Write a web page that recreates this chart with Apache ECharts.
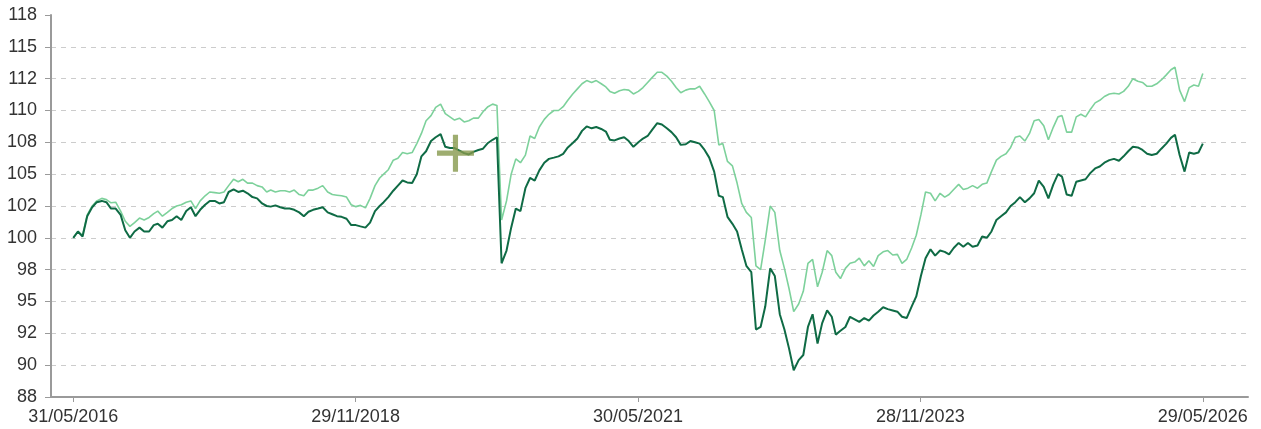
<!doctype html>
<html lang="en">
<head>
    <meta charset="UTF-8">
    <title>Performance chart</title>
    <style>
        html, body { margin: 0; padding: 0; background: #fff; }
        #main { width: 1261px; height: 429px; }
    </style>
</head>
<body>
<div id="main"></div>
<script src="https://cdn.jsdelivr.net/npm/echarts@6/dist/echarts.min.js"></script>
<script>
    var DAY = 86400000;

    // x-axis tick dates (shown as dd/mm/yyyy)
    var tickDates = ['2016-05-31', '2018-11-29', '2021-05-30', '2023-11-28', '2026-05-29'];

    // sampling dates: 31/05/2016, then the 15th and the last day of every month
    var dates = ['2016-05-31'];
    for (var m = 1; m <= 120; m++) {
        var yr = 2016 + Math.floor((4 + m) / 12), mo = (4 + m) % 12;
        var last = new Date(Date.UTC(yr, mo + 1, 0)).getUTCDate();
        dates.push(Date.UTC(yr, mo, 15), Date.UTC(yr, mo, m === 120 ? 29 : last));
    }

    // dark green line
    var seriesDark = [
        100.0, 100.5, 100.1, 101.7, 102.4, 102.8, 102.9, 102.8, 102.3, 102.3,
        101.8, 100.6, 100.0, 100.5, 100.8, 100.5, 100.5, 101.0, 101.1, 100.8,
        101.3, 101.4, 101.7, 101.4, 102.1, 102.4, 101.7, 102.2, 102.6, 102.9,
        102.9, 102.7, 102.8, 103.6, 103.8, 103.6, 103.7, 103.5, 103.2, 103.1,
        102.7, 102.5, 102.45, 102.55, 102.4, 102.3, 102.3, 102.2, 102.0, 101.7,
        102.05, 102.2, 102.3, 102.4, 102.0, 101.85, 101.7, 101.65, 101.5, 101.0,
        101.0, 100.9, 100.8, 101.2, 102.1, 102.5, 102.8, 103.2, 103.7, 104.1,
        104.5, 104.35, 104.3, 105.0, 106.4, 106.8, 107.6, 107.9, 108.15, 107.15,
        107.05, 107.05, 106.85, 106.65, 106.55, 106.75, 106.9, 107.0, 107.45, 107.7,
        107.9, 98.0, 99.0, 100.8, 102.3, 102.1, 103.9, 104.7, 104.5, 105.3,
        105.9, 106.2, 106.3, 106.4, 106.6, 107.1, 107.45, 107.8, 108.4, 108.75,
        108.6, 108.7, 108.55, 108.35, 107.7, 107.65, 107.8, 107.9, 107.6, 107.15,
        107.5, 107.8, 108.0, 108.5, 109.0, 108.9, 108.6, 108.3, 107.9, 107.3,
        107.35, 107.6, 107.5, 107.4, 106.9, 106.3, 105.2, 103.3, 103.2, 101.65,
        101.1, 100.5, 99.1, 97.8, 97.3, 92.8, 93.0, 94.6, 97.6, 97.0,
        94.0, 92.8, 91.3, 89.6, 90.4, 90.8, 93.0, 94.0, 91.7, 93.3,
        94.3, 93.8, 92.4, 92.7, 93.0, 93.8, 93.6, 93.4, 93.7, 93.5,
        93.9, 94.2, 94.55, 94.4, 94.3, 94.2, 93.8, 93.7, 94.6, 95.4,
        97.0, 98.4, 99.1, 98.6, 99.0, 98.9, 98.7, 99.2, 99.6, 99.3,
        99.6, 99.3, 99.4, 100.1, 100.0, 100.5, 101.4, 101.7, 102.0, 102.5,
        102.8, 103.2, 102.8, 103.1, 103.5, 104.5, 104.0, 103.1, 104.2, 105.0,
        104.8, 103.4, 103.3, 104.4, 104.5, 104.6, 105.1, 105.45, 105.6, 105.9,
        106.1, 106.2, 106.05, 106.4, 106.8, 107.15, 107.1, 106.9, 106.6, 106.5,
        106.6, 107.0, 107.4, 107.85, 108.1, 106.5, 105.2, 106.7, 106.6, 106.7,
        107.4
    ];

    // light green line
    var seriesLight = [
        100.0, 100.5, 100.2, 101.8, 102.5, 102.9, 103.1, 103.0, 102.75, 102.8,
        102.1, 101.3, 100.9, 101.2, 101.55, 101.4, 101.6, 101.9, 102.1, 101.7,
        102.0, 102.3, 102.5, 102.6, 102.8, 102.9, 102.3, 102.9, 103.3, 103.6,
        103.55, 103.5, 103.6, 104.1, 104.6, 104.4, 104.6, 104.3, 104.3, 104.1,
        104.0, 103.6, 103.75, 103.6, 103.7, 103.7, 103.6, 103.75, 103.4, 103.3,
        103.75, 103.75, 103.9, 104.1, 103.6, 103.4, 103.35, 103.3, 103.2, 102.6,
        102.45, 102.55, 102.35, 103.1, 104.1, 104.7, 105.0, 105.35, 106.1, 106.25,
        106.7, 106.6, 106.7, 107.4, 108.2, 109.2, 109.6, 110.25, 110.5, 109.75,
        109.5, 109.25, 109.4, 109.1, 109.2, 109.4, 109.4, 109.9, 110.3, 110.5,
        110.4, 101.4, 102.9, 105.0, 106.2, 105.9, 106.5, 108.0, 107.8, 108.7,
        109.3, 109.7, 110.0, 110.0, 110.3, 110.8, 111.3, 111.7, 112.1, 112.35,
        112.2, 112.35, 112.1, 111.85, 111.5, 111.35, 111.55, 111.65, 111.6, 111.3,
        111.5, 111.8, 112.2, 112.6, 113.0, 113.0, 112.7, 112.3, 111.8, 111.4,
        111.6, 111.7, 111.7, 111.9, 111.3, 110.7, 110.0, 107.3, 107.4, 106.0,
        105.65, 104.3, 102.7, 102.0, 101.6, 97.8, 97.5, 99.8, 102.5, 102.0,
        99.0, 97.6, 96.0, 94.2, 94.8, 95.8, 98.0, 98.3, 96.15, 97.3,
        99.0, 98.6, 97.3, 96.8, 97.6, 98.0, 98.1, 98.4, 97.8, 98.2,
        97.75, 98.6, 98.9, 99.0, 98.65, 98.7, 98.0, 98.3, 99.2, 100.2,
        101.8, 103.6, 103.5, 102.9, 103.5, 103.2, 103.4, 103.8, 104.2, 103.8,
        103.9, 104.1, 103.9, 104.2, 104.3, 105.2, 106.1, 106.4, 106.6, 107.1,
        107.9, 108.0, 107.6, 108.2, 109.2, 109.3, 108.8, 107.7, 108.7, 109.5,
        109.6, 108.3, 108.3, 109.5, 109.7, 109.5, 110.1, 110.6, 110.8, 111.1,
        111.3, 111.35, 111.3, 111.5, 111.9, 112.5, 112.3, 112.2, 111.9, 111.9,
        112.1, 112.4, 112.8, 113.2, 113.4, 111.6, 110.7, 111.8, 112.0, 111.9,
        112.9
    ];

    // cross marker
    var markerPoint = ['2019-10-18', 106.65];

    function ts(d) { return typeof d === 'number' ? d : Date.parse(d + 'T00:00:00Z'); }
    function pad(n) { return (n < 10 ? '0' : '') + n; }
    function fmtDate(v) {
        var d = new Date(Math.round(v / DAY) * DAY);
        return pad(d.getUTCDate()) + '/' + pad(d.getUTCMonth() + 1) + '/' + d.getUTCFullYear();
    }
    // labels rounded half to even (87.5 -> 88, 92.5 -> 92)
    function roundLabel(v) {
        var f = Math.floor(v), r = v - f;
        if (Math.abs(r - 0.5) < 1e-9) return String(f % 2 === 0 ? f : f + 1);
        return String(Math.round(v));
    }

    var ticks = tickDates.map(ts);
    function pairs(arr) {
        return arr.map(function (v, i) { return [ts(dates[i]), v]; });
    }

    var font = 'Liberation Sans, Arial, sans-serif';
    var myChart = echarts.init(document.getElementById('main'), null, {renderer: 'canvas'});
    var option = {
        animation: false,
        grid: { left: 51, right: 13, top: 15, bottom: 32, containLabel: false },
        xAxis: {
            type: 'value',
            min: ticks[0] - 72 * DAY,
            max: ticks[4] + 146 * DAY,
            axisLine: { onZero: false, lineStyle: { color: '#9a9a9a', width: 2 } },
            axisTick: { customValues: ticks, length: 5, lineStyle: { color: '#9a9a9a', width: 1 } },
            axisLabel: {
                customValues: ticks,
                formatter: fmtDate,
                color: '#333',
                fontSize: 18,
                fontFamily: font,
                margin: 11
            },
            splitLine: { show: false }
        },
        yAxis: {
            type: 'value',
            min: 87.5,
            max: 117.5,
            interval: 2.5,
            axisLine: { show: true, onZero: false, lineStyle: { color: '#9a9a9a', width: 2 } },
            axisTick: { show: true, length: 6, lineStyle: { color: '#9a9a9a', width: 1 } },
            axisLabel: { formatter: roundLabel, color: '#333', fontSize: 18, fontFamily: font, margin: 14 },
            splitLine: {
                show: true,
                showMinLine: false,
                showMaxLine: false,
                lineStyle: { color: '#cccccc', type: [5, 5], width: 1 }
            }
        },
        series: [{
            name: 'light',
            type: 'line',
            data: pairs(seriesLight),
            showSymbol: false,
            lineStyle: { color: '#7dd19b', width: 1.6 },
            z: 2
        }, {
            name: 'dark',
            type: 'line',
            data: pairs(seriesDark),
            showSymbol: false,
            lineStyle: { color: '#0f6b45', width: 2 },
            z: 3
        }, {
            name: 'marker',
            type: 'scatter',
            data: [[ts(markerPoint[0]), markerPoint[1]]],
            symbol: 'path://M15.5,0h5v15.5h15.5v5h-15.5v15.5h-5v-15.5h-15.5v-5h15.5z',
            symbolSize: 37,
            itemStyle: { color: '#86994c', opacity: 0.8 },
            z: 4
        }]
    };
    myChart.setOption(option);
</script>
</body>
</html>
